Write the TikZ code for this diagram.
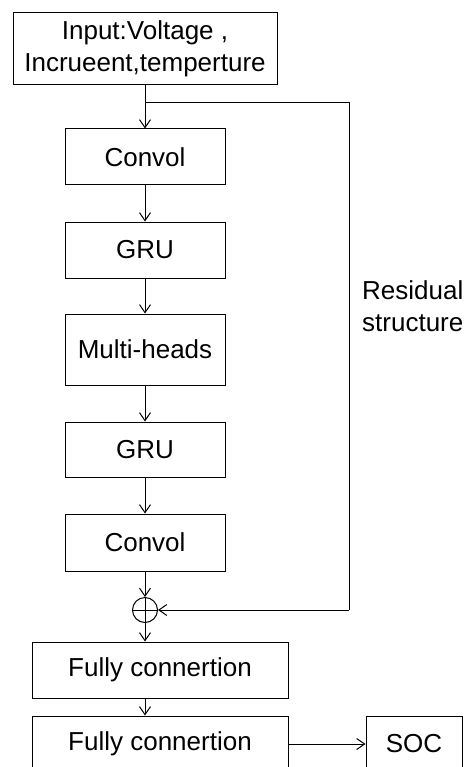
\documentclass[tikz,border=0pt]{standalone}
\usepackage{fontspec}
\setmainfont{Liberation Sans}
\usetikzlibrary{arrows.meta}
\begin{document}
\begin{tikzpicture}[x=1pt,y=-1pt,
  every node/.style={font=\fontsize{26}{32}\selectfont, inner sep=0pt},
  blk/.style={draw, line width=1pt, minimum width=160pt, minimum height=56pt, align=center},
  link/.style={line width=1pt, -{Straight Barb[length=8pt,width=11pt,line width=1pt]}},
  wire/.style={line width=1pt}]
\useasboundingbox (0,0) rectangle (464,767);
\begin{scope}
\clip (0,0) rectangle (464,767);
% input block
\node[blk, minimum width=264pt, minimum height=72pt] (in) at (145,49) {Input:Voltage ,\\Incrueent,temperture};
% main stack
\node[blk] (c1) at (145,157) {Convol};
\node[blk] (g1) at (145,250) {GRU};
\node[blk, minimum height=71pt] (mh) at (145,349.5) {Multi-heads};
\node[blk, minimum height=55pt] (g2) at (145,449.5) {GRU};
\node[blk, minimum height=57pt] (c2) at (145,542.5) {Convol};
% residual adder
\node[draw, circle, line width=1pt, minimum size=25pt] (add) at (145,610) {};
\draw[wire] (add.north) -- (add.south) (add.west) -- (add.east);
% output layers
\node[blk, minimum width=256pt] (f1) at (160,670) {Fully connertion};
\node[blk, minimum width=256pt] (f2) at (160,744) {Fully connertion};
\node[blk, minimum width=96pt] (soc) at (414,744) {SOC};
% residual path
\coordinate (br) at (145,103);
\coordinate (rt) at (349,103);
\coordinate (rb) at (349,610);
\node[anchor=west, align=left] (lbl) at (362,306) {Residual\\structure};
% connectors
\draw[link] (in.south) -- (c1.north);
\draw[wire] (br) -- (rt) -- (rb);
\draw[link] (rb) -- (add.east);
\draw[link] (c1.south) -- (g1.north);
\draw[link] (g1.south) -- (mh.north);
\draw[link] (mh.south) -- (g2.north);
\draw[link] (g2.south) -- (c2.north);
\draw[link] (c2.south) -- (add.north);
\draw[link] (add.south) -- (add.south |- f1.north);
\draw[link] (f1.south -| add) -- (f2.north -| add);
\draw[link] (f2.east) -- (soc.west);
\end{scope}
\end{tikzpicture}
\end{document}
